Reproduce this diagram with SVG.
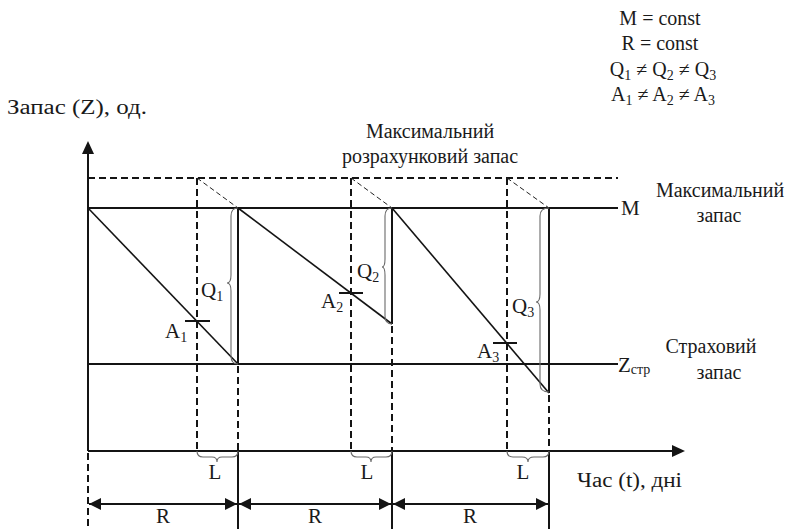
<svg xmlns="http://www.w3.org/2000/svg" width="794" height="529" viewBox="0 0 794 529">
<style>
text{font-family:"Liberation Serif","Times New Roman",serif;font-size:20px;fill:#1a1a1a}
.lbl{font-size:21px}
.sub{font-size:14px}
.ln{stroke:#141414;stroke-width:2;fill:none}
.dec{stroke:#141414;stroke-width:1.6;fill:none}
.dash{stroke:#141414;stroke-width:2;stroke-dasharray:7,4;fill:none}
.thin{stroke:#222;stroke-width:1;stroke-dasharray:5,3;fill:none}
.brace{stroke:#6a6a6a;stroke-width:1.1;fill:none}
.tick{stroke:#141414;stroke-width:2}
</style>
<defs>
<marker id="ah" markerUnits="userSpaceOnUse" markerWidth="13" markerHeight="12" refX="12" refY="6" orient="auto-start-reverse" viewBox="0 0 13 12">
<path d="M0,0 L12,6 L0,12 Z" fill="#141414"/>
</marker>
</defs>
<rect width="794" height="529" fill="#fff"/>

<g id="legend" text-anchor="middle">
<text x="660" y="25">M = const</text>
<text x="660" y="50">R = const</text>
<text x="663" y="76">Q<tspan class="sub" dy="4">1</tspan><tspan dy="-4"> ≠ Q</tspan><tspan class="sub" dy="4">2</tspan><tspan dy="-4"> ≠ Q</tspan><tspan class="sub" dy="4">3</tspan></text>
<text x="663" y="101">A<tspan class="sub" dy="4">1</tspan><tspan dy="-4"> ≠ A</tspan><tspan class="sub" dy="4">2</tspan><tspan dy="-4"> ≠ A</tspan><tspan class="sub" dy="4">3</tspan></text>
</g>

<g id="axes">
<line class="ln" x1="88" y1="451" x2="88" y2="152"/>
<polygon points="88,141 82,154 94,154" fill="#141414"/>
<line class="ln" x1="88" y1="451" x2="674" y2="451"/>
<polygon points="685,451 672,445 672,457" fill="#141414"/>
<line class="dash" x1="88" y1="453" x2="88" y2="529"/>
<text x="7" y="114" font-size="21" textLength="140" lengthAdjust="spacingAndGlyphs">Запас (Z), од.</text>
<text x="577" y="487" font-size="21" textLength="105" lengthAdjust="spacingAndGlyphs">Час (t), дні</text>
</g>

<g id="levels">
<line class="dash" x1="88" y1="178" x2="618" y2="178"/>
<line class="ln" x1="88" y1="208" x2="618" y2="208"/>
<line class="ln" x1="88" y1="364" x2="618" y2="364"/>
<text class="lbl" x="621" y="215">M</text>
<text class="lbl" x="618" y="372">Z<tspan class="sub" dy="2">стр</tspan></text>
<text x="430" y="138" text-anchor="middle">Максимальний</text>
<text x="430" y="163" text-anchor="middle">розрахунковий запас</text>
<text x="720" y="197" text-anchor="middle">Максимальний</text>
<text x="719" y="222" text-anchor="middle">запас</text>
<text x="711" y="353" text-anchor="middle">Страховий</text>
<text x="719" y="379" text-anchor="middle">запас</text>
</g>

<g id="cycle1">
<line class="dec" x1="88" y1="208" x2="238" y2="364"/>
<line class="ln" x1="238" y1="208" x2="238" y2="364"/>
<line class="dash" x1="238" y1="366" x2="238" y2="451"/>
<line class="ln" x1="238" y1="451" x2="238" y2="529"/>
<line class="dash" x1="197" y1="178" x2="197" y2="451"/>
<line class="thin" x1="197" y1="178" x2="238" y2="208"/>
<line class="tick" x1="185" y1="321" x2="210" y2="321"/>
<path class="brace" d="M238,208 Q231,208 231,216 L231,275 Q231,283 227,283 Q231,283 231,291 L231,356 Q231,364 238,364"/>
<text class="lbl" x="201" y="297">Q<tspan class="sub" dy="4">1</tspan></text>
<text class="lbl" x="165" y="338">A<tspan class="sub" dy="4">1</tspan></text>
</g>

<g id="cycle2">
<line class="dec" x1="238" y1="208" x2="392" y2="324"/>
<line class="ln" x1="392" y1="208" x2="392" y2="324"/>
<line class="dash" x1="392" y1="326" x2="392" y2="451"/>
<line class="ln" x1="392" y1="451" x2="392" y2="529"/>
<line class="dash" x1="351" y1="178" x2="351" y2="451"/>
<line class="thin" x1="351" y1="178" x2="392" y2="208"/>
<line class="tick" x1="339" y1="293" x2="363" y2="293"/>
<path class="brace" d="M392,208 Q385,208 385,216 L385,259 Q385,267 382,267 Q385,267 385,275 L385,316 Q385,324 392,324"/>
<text class="lbl" x="357" y="278">Q<tspan class="sub" dy="4">2</tspan></text>
<text class="lbl" x="321" y="308">A<tspan class="sub" dy="4">2</tspan></text>
</g>

<g id="cycle3">
<line class="dec" x1="392" y1="208" x2="549" y2="393"/>
<line class="ln" x1="549" y1="208" x2="549" y2="393"/>
<line class="dash" x1="549" y1="395" x2="549" y2="451"/>
<line class="ln" x1="549" y1="451" x2="549" y2="529"/>
<line class="dash" x1="507" y1="178" x2="507" y2="451"/>
<line class="thin" x1="507" y1="178" x2="549" y2="208"/>
<line class="tick" x1="493" y1="343" x2="517" y2="343"/>
<path class="brace" d="M549,208 Q540,208 540,216 L540,294 Q540,302 536,302 Q540,302 540,310 L540,384 Q540,392 549,392"/>
<text class="lbl" x="512" y="313">Q<tspan class="sub" dy="4">3</tspan></text>
<text class="lbl" x="477" y="358">A<tspan class="sub" dy="4">3</tspan></text>
</g>

<g id="lead-times">
<path class="brace" d="M197,451 Q197,457 203,457 L212,457 Q217,457 217,462 Q217,457 222,457 L232,457 Q238,457 238,451"/>
<path class="brace" d="M351,451 Q351,457 357,457 L366,457 Q371,457 371,462 Q371,457 376,457 L386,457 Q392,457 392,451"/>
<path class="brace" d="M507,451 Q507,457 513,457 L522,457 Q528,457 528,462 Q528,457 534,457 L543,457 Q549,457 549,451"/>
<text class="lbl" x="215" y="479" text-anchor="middle">L</text>
<text class="lbl" x="367" y="479" text-anchor="middle">L</text>
<text class="lbl" x="523" y="479" text-anchor="middle">L</text>
</g>

<g id="connectors">
<line class="ln" x1="89" y1="504" x2="237" y2="504" marker-start="url(#ah)" marker-end="url(#ah)"/>
<line class="ln" x1="239" y1="504" x2="391" y2="504" marker-start="url(#ah)" marker-end="url(#ah)"/>
<line class="ln" x1="393" y1="504" x2="548" y2="504" marker-start="url(#ah)" marker-end="url(#ah)"/>
<text class="lbl" x="163" y="523" text-anchor="middle">R</text>
<text class="lbl" x="315" y="523" text-anchor="middle">R</text>
<text class="lbl" x="470" y="523" text-anchor="middle">R</text>
</g>
</svg>
